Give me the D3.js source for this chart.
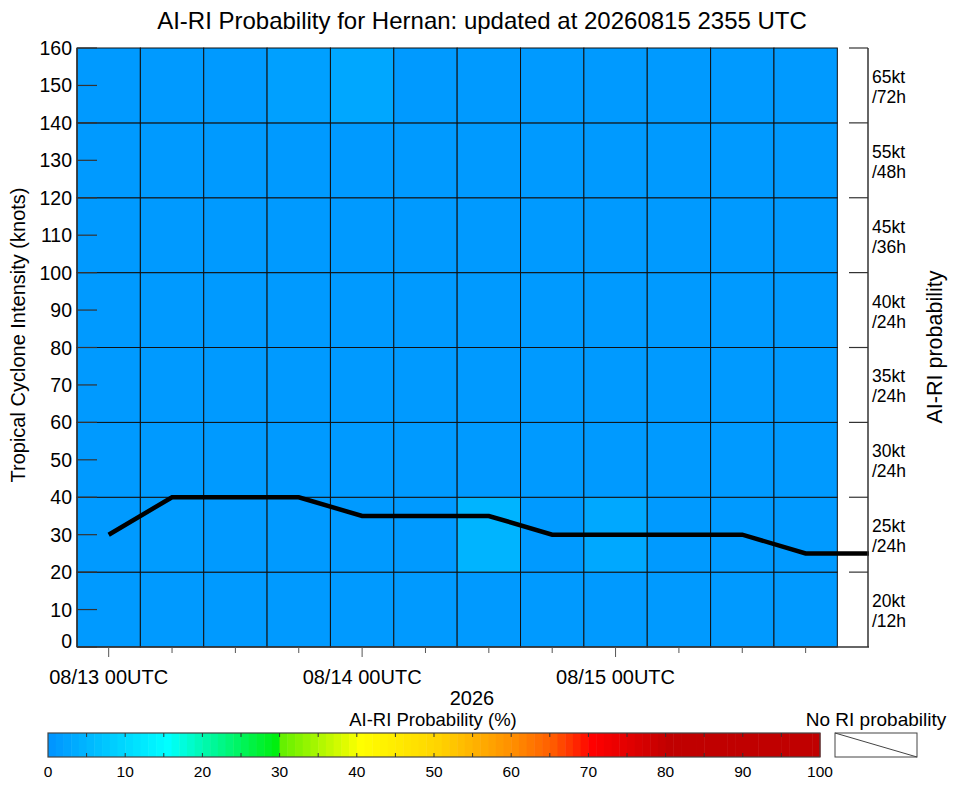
<!DOCTYPE html>
<html>
<head>
<meta charset="utf-8">
<script src="https://cdn.jsdelivr.net/npm/d3@7"></script>
<style>
  body { margin: 0; background: #fff; }
  svg text { font-family: "Liberation Sans", Arial, sans-serif; fill: #000; }
</style>
</head>
<body>
<div id="plot"></div>
<script>
var width = 963;
var height = 785;

// data
var hours = [0, 6, 12, 18, 24, 30, 36, 42, 48, 54, 60, 66, 72];
var intensity = [30, 40, 40, 40, 35, 35, 35, 30, 30, 30, 30, 25, 25];
var cellHours = [0, 6, 12, 18, 24, 30, 36, 42, 48, 54, 60, 66];
var rowBins = [0, 20, 40, 60, 80, 100, 120, 140];   // lower edge of each 20 kt row
// RI probability (%) per row (bottom to top) and 6h column
var probs = [
  [0.5, 0.5, 0.5, 0.5, 0.5, 0.5, 0.5, 0.5, 0.5, 0.5, 0.5, 0.5],
  [0.5, 0.8, 0.5, 0.5, 0.5, 0.5, 4.3, 0.5, 2.6, 0.5, 0.5, 0.5],
  [0.5, 0.5, 0.5, 0.5, 0.5, 0.5, 0.5, 0.5, 0.5, 0.5, 0.5, 0.5],
  [0.5, 0.5, 0.5, 0.5, 0.5, 0.5, 0.5, 0.5, 0.5, 0.5, 0.5, 0.5],
  [0.5, 0.5, 0.5, 0.5, 0.5, 0.5, 0.5, 0.5, 0.5, 0.5, 0.5, 0.5],
  [0.5, 0.5, 0.5, 0.5, 0.5, 0.5, 0.5, 0.5, 0.5, 0.5, 0.5, 0.5],
  [0.5, 0.5, 0.5, 0.5, 0.5, 0.5, 0.5, 0.5, 0.5, 0.5, 0.5, 0.5],
  [0.5, 0.5, 0.5, 1.4, 2.4, 0.5, 0.5, 0.5, 0.5, 0.5, 0.5, 0.5]
];
var riLabels = [['20kt', '/12h'], ['25kt', '/24h'], ['30kt', '/24h'], ['35kt', '/24h'],
                ['40kt', '/24h'], ['45kt', '/36h'], ['55kt', '/48h'], ['65kt', '/72h']];
var dateLabels = ['08/13 00UTC', '08/14 00UTC', '08/15 00UTC'];
var dateHours = [0, 24, 48];
var yTicks = [0, 10, 20, 30, 40, 50, 60, 70, 80, 90, 100, 110, 120, 130, 140, 150, 160];
var cbTicks = [0, 10, 20, 30, 40, 50, 60, 70, 80, 90, 100];
var cbStops = [0, 15, 29.9, 30, 40, 50, 55, 60, 65, 70, 80, 100];
var cbColors = ['#0096ff', '#00ffff', '#00ee00', '#66f000', '#ffff00', '#ffd400', '#ffb000',
                '#ff8c00', '#ff5a00', '#ff0000', '#c00000', '#c00000'];

var canvas = d3.select('#plot')
    .append('svg')
    .attr('width', width)
    .attr('height', height);

var x = d3.scaleLinear().domain([-3, 72]).range([77, 869]);
var y = d3.scaleLinear().domain([0, 160]).range([647, 48]);
var color = d3.scaleLinear().domain(cbStops).range(cbColors).clamp(true);

// title
canvas.append('text')
    .attr('x', 482).attr('y', 29)
    .attr('text-anchor', 'middle')
    .attr('font-size', 24)
    .text('AI-RI Probability for Hernan: updated at 20260815 2355 UTC');

// cells
probs.forEach(function(row, r) {
    canvas.selectAll(null)
        .data(row)
        .enter()
        .append('rect')
        .attr('x', function(d, i) { return x(cellHours[i] - 3); })
        .attr('y', y(rowBins[r] + 20))
        .attr('width', x(3) - x(-3))
        .attr('height', y(0) - y(20))
        .attr('fill', function(d) { return color(d); })
        .attr('stroke', '#111')
        .attr('stroke-width', 1);
});

// intensity line
var line = d3.line()
    .x(function(d, i) { return x(hours[i]); })
    .y(function(d) { return y(d); });
canvas.append('path')
    .attr('d', line(intensity))
    .attr('fill', 'none')
    .attr('stroke', '#000')
    .attr('stroke-width', 4.5);

// axes lines
var axisColor = '#333';
canvas.append('line').attr('x1', 77).attr('x2', 77).attr('y1', 48).attr('y2', 647)
    .attr('stroke', axisColor).attr('stroke-width', 1.5);
canvas.append('line').attr('x1', 77).attr('x2', 869).attr('y1', 647).attr('y2', 647)
    .attr('stroke', axisColor).attr('stroke-width', 1.5);
canvas.append('line').attr('x1', 868).attr('x2', 868).attr('y1', 48).attr('y2', 647)
    .attr('stroke', axisColor).attr('stroke-width', 1.5);

// left ticks + labels
canvas.selectAll('line.ytick')
    .data(yTicks)
    .enter()
    .append('line')
    .attr('class', 'ytick')
    .attr('x1', 77).attr('x2', 97)
    .attr('y1', function(d) { return y(d); })
    .attr('y2', function(d) { return y(d); })
    .attr('stroke', axisColor).attr('stroke-width', 1.2);
canvas.selectAll('text.ytick')
    .data(yTicks)
    .enter()
    .append('text')
    .attr('class', 'ytick')
    .attr('x', 72)
    .attr('y', function(d) { return d === 0 ? y(d) - 6 : y(d); })
    .attr('dy', '0.36em')
    .attr('text-anchor', 'end')
    .attr('font-size', 19.5)
    .text(function(d) { return d; });

canvas.append('text')
    .attr('transform', 'translate(25,' + 335 + ') rotate(-90)')
    .attr('text-anchor', 'middle')
    .attr('font-size', 20)
    .text('Tropical Cyclone Intensity (knots)');

// bottom ticks
canvas.selectAll('line.xtick')
    .data(cellHours)
    .enter()
    .append('line')
    .attr('class', 'xtick')
    .attr('x1', function(d) { return x(d); })
    .attr('x2', function(d) { return x(d); })
    .attr('y1', 647)
    .attr('y2', function(d) { return d % 24 === 0 ? 657 : 653; })
    .attr('stroke', '#555').attr('stroke-width', 1);
canvas.selectAll('text.xtick')
    .data(dateLabels)
    .enter()
    .append('text')
    .attr('class', 'xtick')
    .attr('x', function(d, i) { return x(dateHours[i]); })
    .attr('y', 684)
    .attr('text-anchor', 'middle')
    .attr('font-size', 20)
    .text(function(d) { return d; });
canvas.append('text')
    .attr('x', 472).attr('y', 705)
    .attr('text-anchor', 'middle')
    .attr('font-size', 20)
    .text('2026');

// right ticks + RI labels
canvas.selectAll('line.rtick')
    .data(rowBins.map(function(d) { return d + 20; }))
    .enter()
    .append('line')
    .attr('class', 'rtick')
    .attr('x1', 849).attr('x2', 868)
    .attr('y1', function(d) { return y(d); })
    .attr('y2', function(d) { return y(d); })
    .attr('stroke', axisColor).attr('stroke-width', 1.2);
var rl = canvas.selectAll('text.rlab')
    .data(riLabels)
    .enter()
    .append('text')
    .attr('class', 'rlab')
    .attr('font-size', 17.5)
    .attr('transform', function(d, i) { return 'translate(872,' + y(rowBins[i] + 10) + ')'; });
rl.append('tspan').attr('x', 0).attr('y', -2.5).text(function(d) { return d[0]; });
rl.append('tspan').attr('x', 0).attr('y', 17.5).text(function(d) { return d[1]; });

canvas.append('text')
    .attr('transform', 'translate(942,' + 347 + ') rotate(-90)')
    .attr('text-anchor', 'middle')
    .attr('font-size', 21.5)
    .text('AI-RI probability');

// colorbar
var cb = d3.scaleLinear().domain([0, 100]).range([48, 820]);
var bands = d3.range(0, 100, 1);
canvas.selectAll('rect.band')
    .data(bands)
    .enter()
    .append('rect')
    .attr('class', 'band')
    .attr('x', function(d) { return cb(d); })
    .attr('y', 733)
    .attr('width', cb(1) - cb(0) + 0.5)
    .attr('height', 24)
    .attr('fill', function(d) { return color(d); });
canvas.append('rect')
    .attr('x', 48).attr('y', 733).attr('width', cb(100) - cb(0)).attr('height', 24)
    .attr('fill', 'none').attr('stroke', '#444').attr('stroke-width', 1.2);
var cbMinor = d3.range(5, 100, 5);
canvas.selectAll('line.cbt')
    .data(cbMinor)
    .enter()
    .append('line')
    .attr('class', 'cbt')
    .attr('x1', function(d) { return cb(d); })
    .attr('x2', function(d) { return cb(d); })
    .attr('y1', 733).attr('y2', 737)
    .attr('stroke', '#333');
canvas.selectAll('line.cbb')
    .data(cbMinor)
    .enter()
    .append('line')
    .attr('class', 'cbb')
    .attr('x1', function(d) { return cb(d); })
    .attr('x2', function(d) { return cb(d); })
    .attr('y1', 753).attr('y2', 757)
    .attr('stroke', '#333');
canvas.selectAll('text.cbt')
    .data(cbTicks)
    .enter()
    .append('text')
    .attr('class', 'cbt')
    .attr('x', function(d) { return cb(d); })
    .attr('y', 777)
    .attr('text-anchor', 'middle')
    .attr('font-size', 15.5)
    .text(function(d) { return d; });
canvas.append('text')
    .attr('x', 433).attr('y', 726)
    .attr('text-anchor', 'middle')
    .attr('font-size', 18.5)
    .text('AI-RI Probability (%)');

// no RI legend
canvas.append('text')
    .attr('x', 876).attr('y', 726)
    .attr('text-anchor', 'middle')
    .attr('font-size', 19)
    .text('No RI probability');
canvas.append('rect')
    .attr('x', 835).attr('y', 733).attr('width', 82).attr('height', 24)
    .attr('fill', '#fff').attr('stroke', '#444').attr('stroke-width', 1);
canvas.append('line')
    .attr('x1', 835).attr('y1', 733).attr('x2', 917).attr('y2', 757)
    .attr('stroke', '#444').attr('stroke-width', 1);
</script>
</body>
</html>
